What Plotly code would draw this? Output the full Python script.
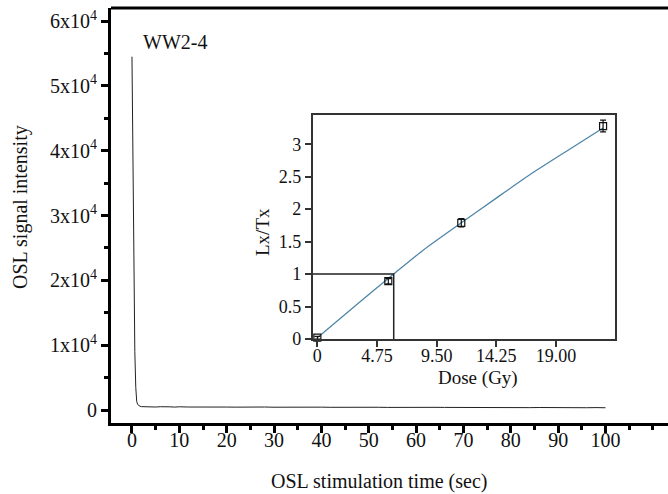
import plotly.graph_objects as go

# ---- Main OSL decay curve ----
osl_time = [0, 0.2, 0.4, 0.6, 0.8, 1.0, 1.2, 1.4, 1.7, 2.0,
            3, 4, 5, 6, 7, 8, 9, 10, 12, 14, 16, 18, 20, 22, 24, 26, 28, 30, 32, 34, 36, 38, 40,
            42, 44, 46, 48, 50, 52, 54, 56, 58, 60, 62, 64, 66, 68, 70, 72, 74, 76, 78,
            80, 82, 84, 86, 88, 90, 92, 94, 96, 98, 100]
osl_counts = [54500, 36000, 20000, 9000, 3500, 1300, 850, 680, 580, 520,
              470, 520, 460, 505, 445, 490, 450, 495, 460, 485, 450, 475, 455, 440, 470,
              435, 460, 430, 450, 425, 445, 420, 440, 415, 435, 410, 430, 405, 425, 400,
              420, 395, 415, 390, 410, 400, 385, 405, 380, 400, 375, 395, 370, 390, 365,
              385, 360, 380, 355, 375, 350, 370, 345]

# ---- Inset dose-response ----
dose = [0.0, 5.65, 11.46, 22.75]
lxtx = [0.02, 0.89, 1.79, 3.28]
lxtx_err = [0.02, 0.04, 0.065, 0.09]
fit_dose = [0.0, 3.0, 6.08, 8.5, 11.46, 14.25, 17.0, 19.9, 22.75]
fit_lxtx = [0.02, 0.51, 1.0, 1.38, 1.79, 2.17, 2.54, 2.90, 3.25]
de_value = 6.08
natural_lxtx = 1.0

y_tickvals = [0, 10000, 20000, 30000, 40000, 50000, 60000]
y_ticktext = ["0", "1x10<sup>4</sup>", "2x10<sup>4</sup>", "3x10<sup>4</sup>",
              "4x10<sup>4</sup>", "5x10<sup>4</sup>", "6x10<sup>4</sup>"]
x_tickvals = [0, 10, 20, 30, 40, 50, 60, 70, 80, 90, 100]
inset_xticks = [0, 4.75, 9.5, 14.25, 19.0]
inset_xtext = ["0", "4.75", "9.50", "14.25", "19.00"]
inset_yticks = [0, 0.5, 1, 1.5, 2, 2.5, 3]
inset_ytext = ["0", "0.5", "1", "1.5", "2", "2.5", "3"]

FONT = "Liberation Serif, Times New Roman, serif"
inset_xrange = [-0.37, 23.7]

PH = 415.0  # plot height in px


def px(page_x):
    return (page_x - 111) / 557.0


def py(page_y):
    return (423 - page_y) / PH


fig = go.Figure()
fig.add_trace(go.Scatter(x=osl_time, y=osl_counts, mode="lines",
                         line=dict(color="#222222", width=1), showlegend=False,
                         xaxis="x", yaxis="y"))

fig.add_trace(go.Scatter(x=fit_dose, y=fit_lxtx, mode="lines",
                         line=dict(color="#4f86a8", width=1.3, shape="spline", smoothing=0.6),
                         showlegend=False, xaxis="x2", yaxis="y2"))
fig.add_trace(go.Scatter(x=[inset_xrange[0], de_value, de_value],
                         y=[natural_lxtx, natural_lxtx, 0],
                         mode="lines", line=dict(color="#222222", width=1.5),
                         showlegend=False, xaxis="x2", yaxis="y2", cliponaxis=False))
fig.add_trace(go.Scatter(x=dose, y=lxtx, mode="markers",
                         marker=dict(symbol="square-open", size=7, color="#111111",
                                     line=dict(width=1.2, color="#111111")),
                         error_y=dict(type="data", array=lxtx_err, color="#111111",
                                      thickness=1.2, width=3),
                         showlegend=False, xaxis="x2", yaxis="y2", cliponaxis=False))

fig.update_layout(
    width=668, height=494,
    margin=dict(l=111, r=0, t=8, b=71),
    paper_bgcolor="white", plot_bgcolor="white",
    font=dict(family=FONT, size=20, color="#111111"),
    xaxis=dict(range=[-4.43, 113.2], tickvals=x_tickvals, ticks="outside",
               ticklen=7, tickwidth=2.5, tickcolor="#000000",
               showline=True, linewidth=3, linecolor="#000000", mirror=False,
               showgrid=False, zeroline=False, ticklabelstandoff=-10,
               ticklabeloverflow="allow",
               minor=dict(dtick=5, tick0=0, ticks="outside", ticklen=4, tickwidth=2.5,
                          tickcolor="#000000", showgrid=False),
               tickfont=dict(size=20)),
    yaxis=dict(range=[-2005, 62005], tickvals=y_tickvals, ticktext=y_ticktext,
               ticks="outside", ticklen=7, tickwidth=2.5, tickcolor="#000000",
               showline=True, linewidth=3, linecolor="#000000",
               showgrid=False, zeroline=False, ticklabeloverflow="allow",
               minor=dict(dtick=5000, tick0=0, ticks="outside", ticklen=4, tickwidth=2.5,
                          tickcolor="#000000", showgrid=False),
               tickfont=dict(size=20)),
    xaxis2=dict(domain=[px(312.7), px(615)], anchor="y2", range=inset_xrange,
                tickvals=inset_xticks, ticktext=inset_xtext, ticks="outside",
                ticklen=6, tickwidth=1.5, tickcolor="#333333",
                showline=True, linewidth=1.5, linecolor="#333333", mirror=True,
                showgrid=False, zeroline=False, ticklabelstandoff=-6,
                tickfont=dict(size=18)),
    yaxis2=dict(domain=[py(339), py(115)], anchor="x2", range=[0, 3.45],
                tickvals=inset_yticks, ticktext=inset_ytext, ticks="outside",
                ticklen=6, tickwidth=1.5, tickcolor="#333333",
                showline=True, linewidth=1.5, linecolor="#333333", mirror=True,
                showgrid=False, zeroline=False, tickfont=dict(size=18)),
    shapes=[dict(type="line", xref="paper", yref="paper", x0=0, x1=1, y0=1, y1=1,
                 line=dict(color="#000000", width=3))],
    annotations=[
        dict(text="OSL signal intensity", xref="paper", yref="paper",
             x=px(20), y=py(207), textangle=-90, showarrow=False,
             font=dict(size=20), xanchor="center", yanchor="middle"),
        dict(text="OSL stimulation time (sec)", xref="paper", yref="paper",
             x=px(379), y=py(481), showarrow=False, font=dict(size=20),
             xanchor="center", yanchor="middle"),
        dict(text="WW2-4", xref="paper", yref="paper",
             x=px(175), y=py(42), showarrow=False,
             font=dict(size=20), xanchor="center", yanchor="middle"),
        dict(text="Dose (Gy)", xref="paper", yref="paper",
             x=px(478), y=py(378), showarrow=False,
             font=dict(size=19), xanchor="center", yanchor="middle"),
        dict(text="Lx/Tx", xref="paper", yref="paper",
             x=px(262), y=py(232), textangle=-90, showarrow=False,
             font=dict(size=19), xanchor="center", yanchor="middle"),
    ],
)

fig.write_html("out.html",
               config={"displayModeBar": False},
               post_script="document.body.style.margin='0px';"
                           "document.body.style.overflow='hidden';")
